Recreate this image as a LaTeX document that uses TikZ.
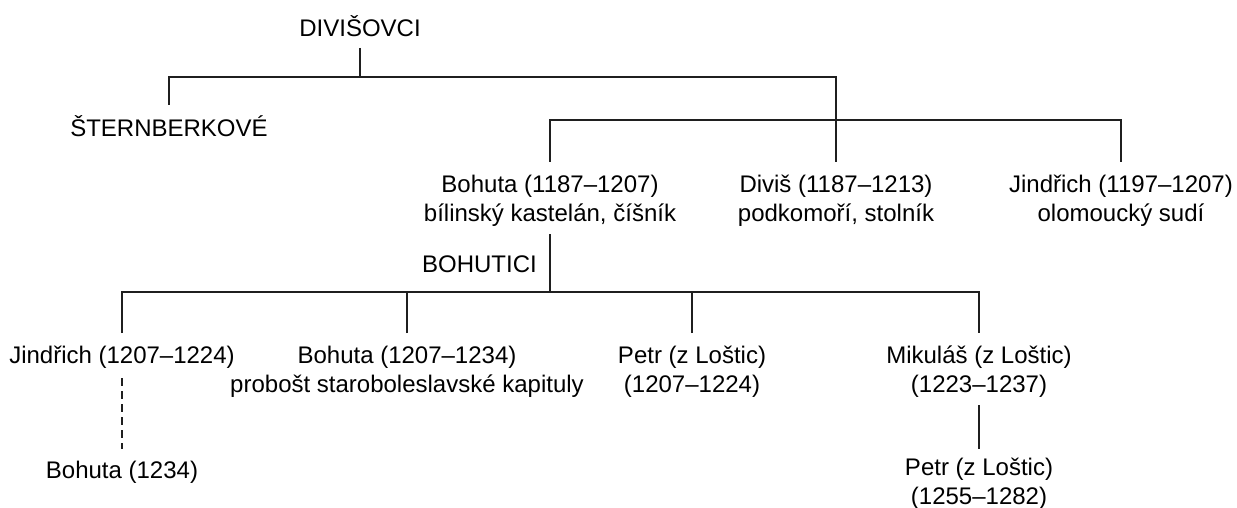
\documentclass[tikz,border=0pt]{standalone}
\usepackage{fontspec}
\setmainfont{Liberation Sans}
\begin{document}
\begin{tikzpicture}[x=1pt,y=-1pt,
  lbl/.style={inner sep=0pt, align=center, anchor=base, text=black,
              font=\fontsize{24}{29}\selectfont},
  tree/.style={line width=1.8pt, draw=black!88, line cap=butt},
  dashtree/.style={tree, dash pattern=on 8pt off 5pt}]
\useasboundingbox (0,0) rectangle (1237,508);
\fill[white] (0,0) rectangle (1237,508);

% nodes (base anchor = baseline of the last line)
\node[lbl] (div)   at (360,37)  {DIVIŠOVCI};
\node[lbl] (stern) at (169,137) {ŠTERNBERKOVÉ};
\node[lbl] (bohA)  at (550,221) {Bohuta (1187–1207)\\bílinský kastelán, číšník};
\node[lbl] (divis) at (836,221) {Diviš (1187–1213)\\podkomoří, stolník};
\node[lbl] (jinA)  at (1121,221) {Jindřich (1197–1207)\\olomoucký sudí};
\node[lbl, anchor=base east] (bohutici) at (537,272) {BOHUTICI};
\node[lbl] (jinB)  at (122,363) {Jindřich (1207–1224)};
\node[lbl] (bohB)  at (407,392) {Bohuta (1207–1234)\\probošt staroboleslavské kapituly};
\node[lbl] (petrA) at (692,392) {Petr (z Loštic)\\(1207–1224)};
\node[lbl] (mik)   at (979,392) {Mikuláš (z Loštic)\\(1223–1237)};
\node[lbl] (bohC)  at (122,478) {Bohuta (1234)};
\node[lbl] (petrB) at (979,504) {Petr (z Loštic)\\(1255–1282)};

% junctions
\coordinate (t1) at (360,77);
\coordinate (t1L) at (169,77);
\coordinate (t1R) at (836,77);
\coordinate (t2L) at (550,120);
\coordinate (t2R) at (1121,120);
\coordinate (t3) at (550,292);
\coordinate (t3L) at (122,292);
\coordinate (t3R) at (979,292);

% connectors
\draw[tree] ([yshift=-11pt]div.base) -- (t1);
\draw[tree] ([yshift=32pt]stern.base) -- (t1L) -- (t1R) -- ([yshift=59pt]divis.base);
\draw[tree] ([yshift=59pt]bohA.base) -- (t2L) -- (t2R) -- ([yshift=59pt]jinA.base);
\draw[tree] ([yshift=-13pt]bohA.base) -- (t3);
\draw[tree] ([yshift=30pt]jinB.base) -- (t3L) -- (t3R) -- ([yshift=59pt]mik.base);
\draw[tree] ([yshift=59pt]bohB.base) -- (bohB.base |- t3L);
\draw[tree] ([yshift=59pt]petrA.base) -- (petrA.base |- t3L);
\draw[dashtree] ([yshift=-15pt]jinB.base) -- ([yshift=29pt]bohC.base);
\draw[tree] ([yshift=-13pt]mik.base) -- ([yshift=55pt]petrB.base);
\end{tikzpicture}
\end{document}
